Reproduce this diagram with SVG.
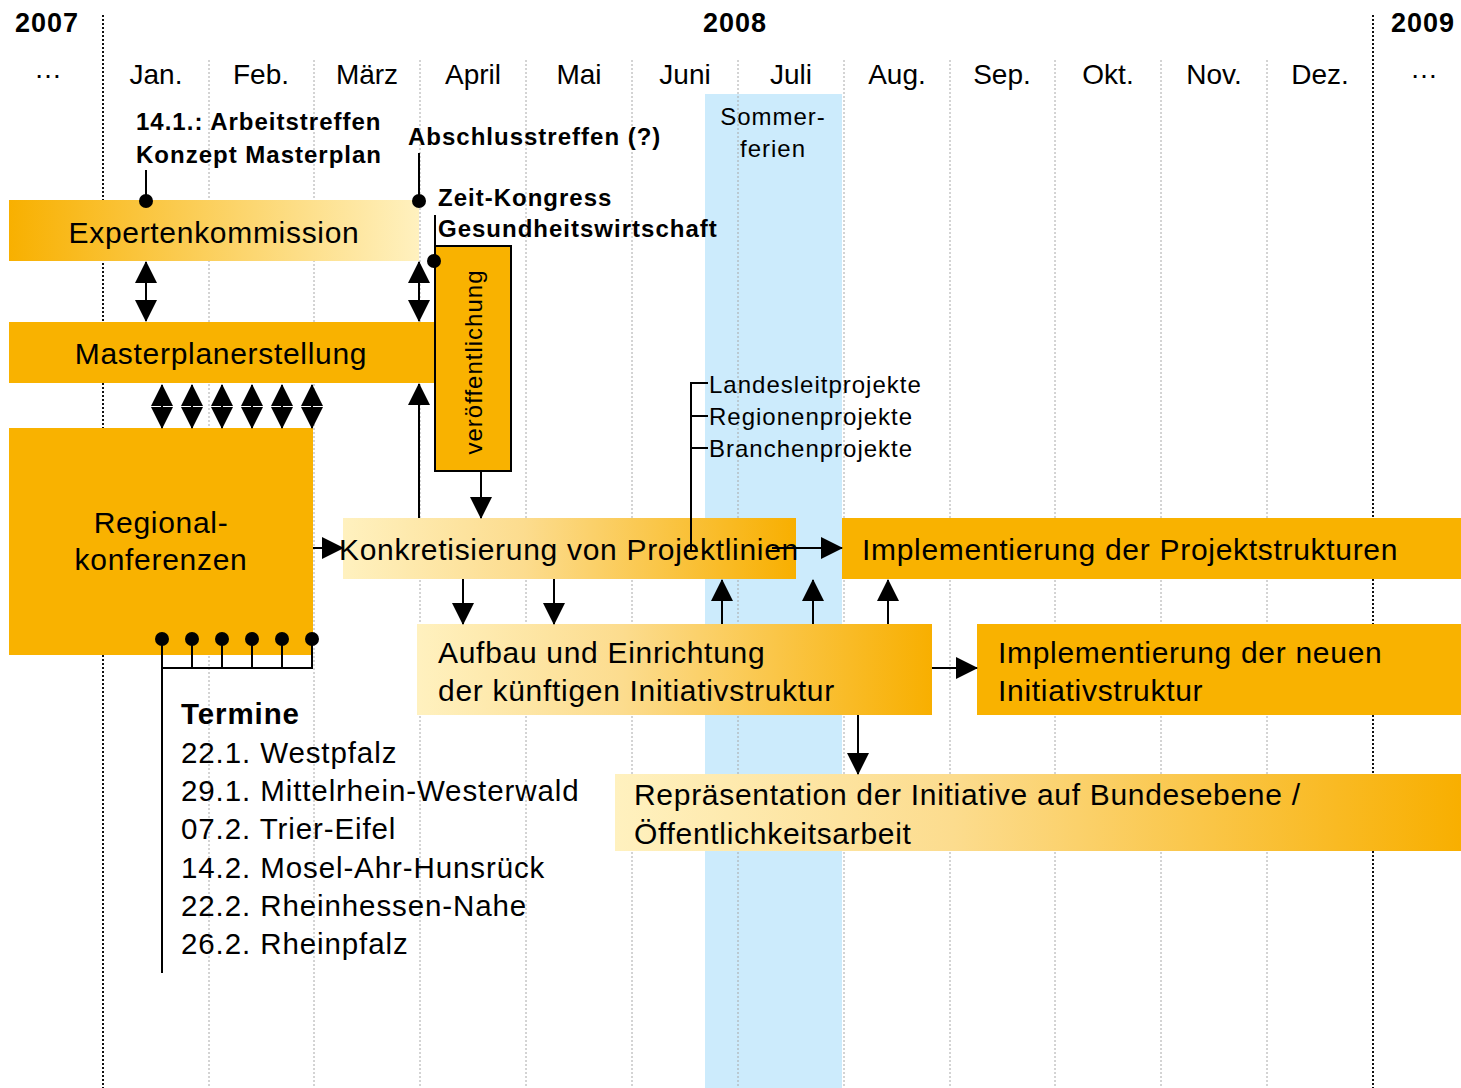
<svg xmlns="http://www.w3.org/2000/svg" width="1461" height="1088" viewBox="0 0 1461 1088">
<style>
text{font-family:"Liberation Sans",Arial,sans-serif;fill:#000}
.yr{font-size:27px;font-weight:bold;letter-spacing:1px}
.mo{font-size:28px;text-anchor:middle}
.big{font-size:30px;letter-spacing:0.7px}
.sm{font-size:24px;letter-spacing:1px}
.smb{font-size:24px;font-weight:bold;letter-spacing:1px}
.ter{font-size:29.5px;letter-spacing:0.9px}
.grid{stroke:#a8a8a8;stroke-width:1;stroke-dasharray:2 2;fill:none}
.gridd{stroke:#111;stroke-width:2;stroke-dasharray:2 2;fill:none}
.org{fill:#F9B200}
.ln{stroke:#000;stroke-width:2;fill:none}
.ar{stroke:#000;stroke-width:2;fill:none;marker-end:url(#ah)}
.ar2{stroke:#000;stroke-width:2;fill:none;marker-start:url(#ah);marker-end:url(#ah)}
</style>
<defs>
<marker id="ah" markerUnits="userSpaceOnUse" markerWidth="22" markerHeight="22" refX="21" refY="11" orient="auto-start-reverse" viewBox="0 0 22 22">
<path d="M0,0 L22,11 L0,22 z" fill="#000"/>
</marker>
<linearGradient id="gOL" x1="0" y1="0" x2="1" y2="0">
<stop offset="0" stop-color="#F8B000"/><stop offset="1" stop-color="#FFF1BF"/>
</linearGradient>
<linearGradient id="gLO" x1="0" y1="0" x2="1" y2="0">
<stop offset="0" stop-color="#FFF1BF"/><stop offset="0.4" stop-color="#FCDC8E"/><stop offset="1" stop-color="#F8AF00"/>
</linearGradient>
</defs>
<rect width="1461" height="1088" fill="#fff"/>
<g id="sommerferien">
<rect x="705" y="94" width="137" height="994" fill="#CCEBFC"/>
<text class="sm" x="773" y="125" text-anchor="middle">Sommer-</text>
<text class="sm" x="773" y="157" text-anchor="middle">ferien</text>
</g>
<g id="grid">
<path class="gridd" d="M103,15V1088M1373,15V1088"/>
<path class="grid" d="M209,60V1088M314,60V1088M420,60V1088M526,60V1088M632,60V1088M738,60V1088M844,60V1088M950,60V1088M1055,60V1088M1161,60V1088M1267,60V1088"/>
</g>
<g id="header">
<text class="yr" x="15" y="32">2007</text>
<text class="yr" x="735" y="32" text-anchor="middle">2008</text>
<text class="yr" x="1423" y="32" text-anchor="middle">2009</text>
<text class="mo" x="48" y="78">…</text>
<text class="mo" x="156" y="84">Jan.</text>
<text class="mo" x="261" y="84">Feb.</text>
<text class="mo" x="367" y="84">März</text>
<text class="mo" x="473" y="84">April</text>
<text class="mo" x="579" y="84">Mai</text>
<text class="mo" x="685" y="84">Juni</text>
<text class="mo" x="791" y="84">Juli</text>
<text class="mo" x="897" y="84">Aug.</text>
<text class="mo" x="1002" y="84">Sep.</text>
<text class="mo" x="1108" y="84">Okt.</text>
<text class="mo" x="1214" y="84">Nov.</text>
<text class="mo" x="1320" y="84">Dez.</text>
<text class="mo" x="1424" y="78">…</text>
</g>
<g id="expertenkommission">
<rect x="9" y="200" width="410" height="61" fill="url(#gOL)"/>
<text class="big" x="214" y="243" text-anchor="middle">Expertenkommission</text>
</g>
<g id="masterplanerstellung">
<rect class="org" x="9" y="322" width="426" height="61"/>
<text class="big" x="221" y="364" text-anchor="middle">Masterplanerstellung</text>
</g>
<g id="regionalkonferenzen">
<rect class="org" x="9" y="428" width="304" height="227"/>
<text class="big" x="161" y="533" text-anchor="middle">Regional-</text>
<text class="big" x="161" y="570" text-anchor="middle">konferenzen</text>
</g>
<g id="veroeffentlichung">
<rect class="org" x="435" y="246" width="76" height="225" stroke="#000" stroke-width="2"/>
<text class="sm" transform="translate(482,362) rotate(-90)" text-anchor="middle">veröffentlichung</text>
</g>
<g id="konkretisierung">
<rect x="343" y="518" width="453" height="61" fill="url(#gLO)"/>
<text class="big" x="569" y="560" text-anchor="middle">Konkretisierung von Projektlinien</text>
</g>
<g id="impl-projektstrukturen">
<rect class="org" x="842" y="518" width="619" height="61"/>
<text class="big" x="862" y="560">Implementierung der Projektstrukturen</text>
</g>
<g id="aufbau">
<rect x="417" y="624" width="515" height="91" fill="url(#gLO)"/>
<text class="big" x="438" y="663">Aufbau und Einrichtung</text>
<text class="big" x="438" y="701">der künftigen Initiativstruktur</text>
</g>
<g id="impl-initiativstruktur">
<rect class="org" x="977" y="624" width="484" height="91"/>
<text class="big" x="998" y="663">Implementierung der neuen</text>
<text class="big" x="998" y="701">Initiativstruktur</text>
</g>
<g id="repraesentation">
<rect x="615" y="774" width="846" height="77" fill="url(#gLO)"/>
<text class="big" x="634" y="805">Repräsentation der Initiative auf Bundesebene /</text>
<text class="big" x="634" y="844">Öffentlichkeitsarbeit</text>
</g>
<g id="labels">
<text class="smb" x="136" y="130">14.1.: Arbeitstreffen</text>
<text class="smb" x="136" y="163">Konzept Masterplan</text>
<text class="smb" x="408" y="145">Abschlusstreffen (?)</text>
<text class="smb" x="438" y="206">Zeit-Kongress</text>
<text class="smb" x="438" y="237">Gesundheitswirtschaft</text>
<text class="sm" x="709" y="393">Landesleitprojekte</text>
<text class="sm" x="709" y="425">Regionenprojekte</text>
<text class="sm" x="709" y="457">Branchenprojekte</text>
</g>
<g id="termine">
<text class="ter" x="181" y="724" font-weight="bold">Termine</text>
<text class="ter" x="181" y="763">22.1. Westpfalz</text>
<text class="ter" x="181" y="801">29.1. Mittelrhein-Westerwald</text>
<text class="ter" x="181" y="839">07.2. Trier-Eifel</text>
<text class="ter" x="181" y="878">14.2. Mosel-Ahr-Hunsrück</text>
<text class="ter" x="181" y="916">22.2. Rheinhessen-Nahe</text>
<text class="ter" x="181" y="954">26.2. Rheinpfalz</text>
</g>
<g id="connectors">
<path class="ln" d="M146,170V201M419,153V201M435,215V261"/>
<circle cx="146" cy="201" r="7"/>
<circle cx="419" cy="201" r="7"/>
<circle cx="434" cy="261" r="7"/>
<path class="ar2" d="M146,262V321"/>
<path class="ar2" d="M419,262V321"/>
<path class="ar2" d="M162,385V428"/>
<path class="ar2" d="M192,385V428"/>
<path class="ar2" d="M222,385V428"/>
<path class="ar2" d="M252,385V428"/>
<path class="ar2" d="M282,385V428"/>
<path class="ar2" d="M312,385V428"/>
<path class="ar" d="M419,518V384"/>
<path class="ar" d="M481,471V518"/>
<path class="ln" d="M708,383H691V550M691,416H708M691,448H708"/>
<path class="ar" d="M313,548H343"/>
<path class="ar" d="M772,548H842"/>
<path class="ar" d="M463,579V624"/>
<path class="ar" d="M554,579V624"/>
<path class="ar" d="M722,624V580"/>
<path class="ar" d="M813,624V580"/>
<path class="ar" d="M888,624V580"/>
<path class="ar" d="M932,668H977"/>
<path class="ar" d="M858,715V774"/>
<path class="ln" d="M162,639V973M192,639V668M222,639V668M252,639V668M282,639V668M312,639V668M162,668H313"/>
<circle cx="162" cy="639" r="7"/>
<circle cx="192" cy="639" r="7"/>
<circle cx="222" cy="639" r="7"/>
<circle cx="252" cy="639" r="7"/>
<circle cx="282" cy="639" r="7"/>
<circle cx="312" cy="639" r="7"/>
</g>
</svg>
